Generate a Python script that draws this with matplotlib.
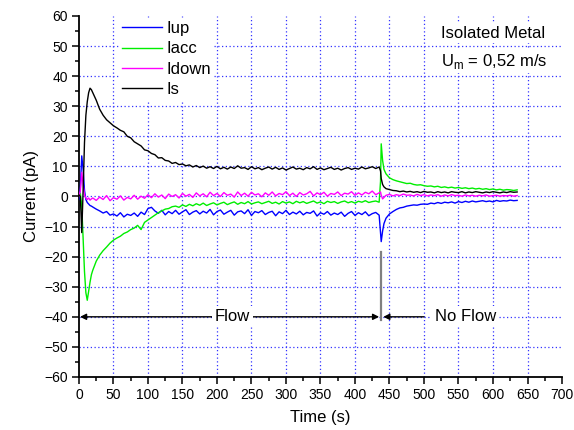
import matplotlib
matplotlib.use('Agg')
import matplotlib.pyplot as plt
import numpy as np

plt.rcParams['font.family'] = ['Liberation Sans', 'DejaVu Sans']
plt.rcParams['mathtext.fontset'] = 'custom'
plt.rcParams['mathtext.rm'] = 'Liberation Sans'

# sample times (s): dense at the start, 5 s steps, dense again at flow stop
time = np.concatenate([np.arange(0, 20, 2), np.arange(20, 436, 5),
                       [437, 438, 440, 442], np.arange(445, 636, 5)])

# currents in pA
i_up = [-1.0, 3.0, 13.5, 9.0, 2.0, -1.0, -2.0, -2.5, -3.0, -3.2,
        -3.5, -4.2, -4.8, -5.5, -5.0, -6.2, -5.8, -6.5, -5.4, -6.8, -5.9, -6.3,
        -5.5, -6.6, -5.2, -6.0, -4.0, -3.6, -4.8, -5.6, -4.6, -6.1, -5.0, -5.7,
        -4.6, -5.9, -5.1, -4.4, -6.0, -5.2, -4.7, -5.8, -4.9, -5.5, -4.3, -6.1,
        -5.0, -4.5, -5.9, -5.2, -4.6, -6.2, -5.1, -4.8, -5.7, -4.4, -6.3, -5.0,
        -5.4, -4.7, -6.0, -5.3, -4.9, -6.4, -5.1, -5.7, -4.6, -6.0, -5.2, -5.8,
        -4.9, -6.1, -5.3, -5.6, -4.8, -6.5, -5.4, -5.9, -5.0, -6.2, -5.5, -6.0,
        -5.2, -6.6, -5.6, -5.0, -6.3, -5.4, -6.0, -5.1, -6.4, -5.7, -5.3, -6.2,
        -12.0, -15.0, -11.5, -9.0,
        -7.2, -5.8, -5.0, -4.3, -3.8, -3.6, -3.2, -3.0, -2.8, -2.9, -2.6, -2.5, -2.6,
        -2.2, -2.4, -2.0, -2.3, -1.9, -2.1, -1.8, -2.2, -1.7, -2.0, -1.6, -1.9, -1.5,
        -1.8, -1.6, -1.4, -1.7, -1.5, -1.8, -1.3, -1.6, -1.4, -1.5, -1.2, -1.4, -1.3]

i_acc = [0.5, 1.0, -3.0, -14.0, -25.0, -32.0, -34.5, -31.5, -28.5, -26.0,
         -24.5, -21.5, -19.5, -18.0, -16.8, -15.5, -14.5, -13.8, -13.2, -12.3, -11.8, -11.0,
         -10.5, -9.6, -11.0, -8.6, -7.8, -7.0, -6.2, -5.4, -4.8, -4.2, -4.0, -3.4,
         -3.2, -3.6, -2.8, -3.3, -2.6, -3.1, -2.4, -2.9, -2.2, -3.0, -2.5, -2.1,
         -2.8, -2.3, -1.9, -2.7, -2.2, -1.8, -2.6, -2.0, -2.4, -1.7, -2.5, -2.1,
         -1.8, -2.4, -2.0, -1.6, -2.3, -1.9, -2.5, -1.7, -2.2, -1.8, -2.4, -1.6,
         -2.1, -1.7, -2.3, -1.9, -1.5, -2.2, -1.8, -2.4, -1.6, -2.0, -1.7, -2.3,
         -1.8, -1.5, -2.1, -1.7, -2.2, -1.6, -1.9, -1.4, -2.0, -1.7, -1.5, -1.9,
         5.0, 17.5, 12.0, 9.0,
         7.5, 6.2, 5.6, 5.2, 4.9, 4.6, 4.3, 4.4, 4.0, 3.8, 3.9, 3.6, 3.4,
         3.5, 3.2, 3.4, 3.0, 3.2, 2.9, 3.1, 2.8, 3.0, 2.7, 2.9, 2.6, 2.8,
         2.5, 2.7, 2.4, 2.6, 2.3, 2.5, 2.2, 2.4, 2.1, 2.3, 2.2, 2.0, 2.2]

i_down = [0.0, 2.0, 8.0, 4.0, 0.5, -0.5, -1.0, -0.5, -1.2, -0.8,
          -0.5, -1.3, -0.2, -1.0, 0.3, -1.4, -0.4, -0.9, 0.2, -1.2, -0.3, -0.8,
          0.4, -0.9, 0.1, -0.6, 0.6, -0.4, 0.9, -0.2, 0.5, -0.7, 0.8, 0.0,
          0.6, -0.5, 1.0, 0.1, 0.7, -0.3, 1.2, 0.2, 0.9, -0.1, 1.4, 0.3,
          1.0, 0.0, 1.3, 0.4, 0.8, -0.2, 1.5, 0.3, 1.1, 0.1, 1.4, 0.5,
          0.9, -0.1, 1.2, 0.4, 1.5, 0.2, 1.0, 0.6, 1.6, 0.3, 1.1, 0.0,
          1.3, 0.5, 0.9, 1.7, 0.2, 1.2, 0.6, 1.4, 0.1, 1.0, 0.7, 1.5,
          0.3, 1.1, 0.8, 1.6, 0.4, 1.2, 0.5, 1.4, 0.9, 1.8, 0.6, 1.2,
          1.5, 0.5, -0.8, -0.3,
          0.4, 0.7, 0.2, 0.6, 0.3, 0.8, 0.4, 0.5, 0.2, 0.7, 0.3, 0.6, 0.2,
          0.5, 0.3, 0.6, 0.1, 0.5, 0.2, 0.6, 0.3, 0.4, 0.1, 0.5, 0.2, 0.4,
          0.1, 0.4, 0.2, 0.5, 0.1, 0.3, 0.4, 0.1, 0.3, 0.2, 0.4, 0.1, 0.3]

i_s = [0.5, 0.0, -12.0, 2.0, 18.0, 27.0, 31.5, 34.5, 36.0, 35.5,
       34.5, 32.0, 29.0, 27.0, 25.5, 24.5, 23.5, 22.8, 22.0, 21.5, 20.0, 19.5,
       18.2, 17.5, 16.8, 15.5, 15.2, 14.3, 13.9, 12.8, 12.9, 12.0, 11.8, 11.0,
       11.3, 10.6, 10.8, 10.2, 10.5, 9.8, 10.3, 9.6, 10.1, 9.4, 9.9, 9.3,
       10.0, 9.2, 9.7, 9.1, 9.8, 9.3, 10.2, 9.4, 9.6, 9.0, 9.9, 9.2,
       9.6, 8.9, 9.4, 9.8, 9.1, 9.7, 9.0, 9.5, 8.8, 9.3, 9.8, 9.1,
       9.4, 8.9, 9.6, 9.2, 9.9, 9.0, 9.5, 8.9, 9.3, 9.7, 9.0, 9.4,
       8.8, 9.3, 9.6, 9.0, 9.4, 9.1, 9.8, 9.2, 9.5, 9.9, 9.3, 9.8,
       8.5, 6.0, 4.0, 3.2,
       2.6, 2.3, 2.0, 1.9, 1.6, 1.8, 1.5, 1.7, 1.4, 1.6, 1.3, 1.7, 1.4,
       1.5, 1.2, 1.6, 1.3, 1.5, 1.2, 1.6, 1.4, 1.3, 1.6, 1.2, 1.5, 1.3,
       1.6, 1.4, 1.2, 1.5, 1.3, 1.6, 1.4, 1.2, 1.5, 1.3, 1.6, 1.4, 1.5]

labels = ['Iup', 'Iacc', 'Idown', 'Is']
colors = ['#0000ff', '#00ee00', '#ff00ff', 'black']

flow_stop = 437.5
arrow_y = -40

fig = plt.figure(figsize=(5.74, 4.30), dpi=100)
ax = fig.add_axes([0.1376, 0.1233, 0.8415, 0.8395])

# dotted blue grid, only inside the frame
for gx in range(50, 700, 50):
    ax.axvline(gx, color='#3333ff', ls=(0, (1, 2)), lw=0.9, zorder=0)
for gy in range(-50, 60, 10):
    ax.axhline(gy, color='#3333ff', ls=(0, (1, 2)), lw=0.9, zorder=0)

for y, lab, c in zip([i_up, i_acc, i_down, i_s], labels, colors):
    ax.plot(time, y, color=c, lw=1.0, label=lab, zorder=3)

leg = ax.legend(loc='upper left', bbox_to_anchor=(0.082, 0.995), borderaxespad=0,
                borderpad=0.2, handlelength=2.4, handletextpad=0.25,
                labelspacing=0.32, fontsize=12, frameon=True, fancybox=False,
                facecolor='white', edgecolor='none', framealpha=1)
leg.set_zorder(4)

ax.text(524, 54.3, 'Isolated Metal', fontsize=12, va='center', ha='left',
        bbox=dict(facecolor='white', edgecolor='none', pad=2), zorder=4)
ax.text(524, 45.0, r'U$_\mathrm{m}$ = 0,52 m/s', fontsize=12, va='center',
        ha='left', bbox=dict(facecolor='white', edgecolor='none', pad=2), zorder=4)

# flow / no flow markers
ax.annotate('', xy=(1.5, arrow_y), xytext=(435, arrow_y),
            arrowprops=dict(arrowstyle='<|-|>', color='black', lw=1,
                            mutation_scale=9, shrinkA=0, shrinkB=0), zorder=5)
ax.text(222, arrow_y, 'Flow', fontsize=12, ha='center', va='center',
        bbox=dict(facecolor='white', edgecolor='none', pad=2), zorder=6)
ax.annotate('', xy=(441, arrow_y), xytext=(500, arrow_y),
            arrowprops=dict(arrowstyle='-|>', color='black', lw=1,
                            mutation_scale=9, shrinkA=0, shrinkB=0), zorder=5)
ax.text(560, arrow_y, 'No Flow', fontsize=12, ha='center', va='center',
        bbox=dict(facecolor='white', edgecolor='none', pad=2), zorder=6)
ax.plot([flow_stop, flow_stop], [-41, -18.5], color='gray', lw=1.6, zorder=5)

ax.set_xlim(0, 700)
ax.set_ylim(-60, 60)
ax.set_xticks(range(0, 701, 50))
ax.set_xticks(range(25, 700, 50), minor=True)
ax.set_yticks(range(-60, 61, 10))
ax.set_yticks(range(-55, 60, 10), minor=True)
ax.tick_params(which='major', length=5, width=1.1, labelsize=10, pad=3)
ax.tick_params(which='minor', length=3, width=1.1)
ax.spines['top'].set_visible(False)
ax.spines['right'].set_visible(False)
for s in ['left', 'bottom']:
    ax.spines[s].set_linewidth(1.3)

ax.set_xlabel('Time (s)', fontsize=12, labelpad=6)
ax.set_ylabel('Current (pA)', fontsize=12, labelpad=4)

fig.savefig('out.png', dpi=100)
